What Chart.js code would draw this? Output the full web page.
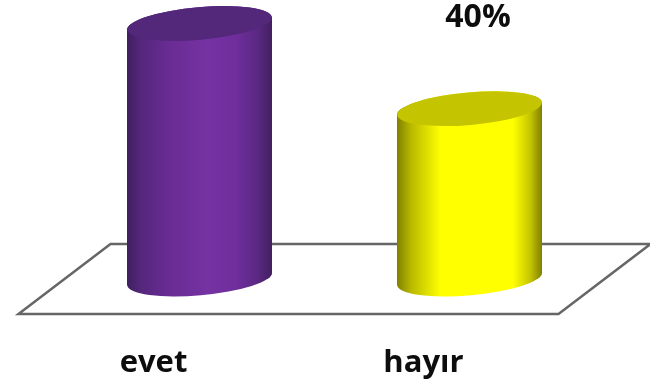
<!DOCTYPE html>
<html>
<head>
<meta charset="utf-8">
<script src="https://cdn.jsdelivr.net/npm/chart.js@4"></script>
<style>
  html, body { margin: 0; padding: 0; background: #fff; }
  #wrap { width: 650px; height: 381px; }
</style>
</head>
<body>
<div id="wrap"><canvas id="cylinderChart" width="650" height="381"></canvas></div>
<script>
const categories = ['evet', 'hayır'];
const percentValues = [60, 40];
const valueLabels = ['', '40%'];
const yMax = 60;

const sideStops = [
    [[0, '#3f1f5e'], [0.1, '#55277d'], [0.3, '#6a2c94'], [0.55, '#7532a3'], [0.75, '#6f2e9c'], [0.9, '#5a2883'], [1, '#42205f']],
    [[0, '#808000'], [0.1, '#baba00'], [0.3, '#ffff00'], [0.8, '#ffff00'], [0.92, '#c4c400'], [1, '#808000']]
];
const capColors = ['#53277a', '#c4c400'];

const fontName = '"Open Sans", Lato, sans-serif';
const barShare = 0.537;
const floorShear = 46;
const floorDepth = 35;
const capA = 72.6, capB = 16.3, capTilt = -5 * Math.PI / 180, capDrop = 6;

function sideGradient(chart, i, cx, w) {
    const g = chart.ctx.createLinearGradient(cx - w / 2, 0, cx + w / 2, 0);
    sideStops[i].forEach(s => g.addColorStop(s[0], s[1]));
    return g;
}

function cylinderPath(ctx, bar) {
    const half = bar.width / 2;
    ctx.moveTo(bar.x - half, bar.y + capDrop);
    ctx.lineTo(bar.x - half, bar.base + capDrop);
    ctx.lineTo(bar.x + half, bar.base - capDrop);
    ctx.lineTo(bar.x + half, bar.y - capDrop);
    ctx.closePath();
    ctx.moveTo(bar.x + capA, bar.base);
    ctx.ellipse(bar.x, bar.base, capA, capB, capTilt, 0, Math.PI * 2, true);
    ctx.closePath();
    ctx.moveTo(bar.x + capA, bar.y);
    ctx.ellipse(bar.x, bar.y, capA, capB, capTilt, 0, Math.PI * 2, true);
    ctx.closePath();
}

const cylinderPlugin = {
    id: 'cylinders',
    beforeDatasetsDraw(chart) {
        const ctx = chart.ctx;
        const area = chart.chartArea;
        const y0 = chart.scales.y.getPixelForValue(0);
        const bars = chart.getDatasetMeta(0).data;

        // floor of the 3d chart
        ctx.save();
        ctx.strokeStyle = '#666666';
        ctx.lineWidth = 2.5;
        ctx.lineJoin = 'miter';
        ctx.beginPath();
        ctx.moveTo(area.left + floorShear, y0 - floorDepth);
        ctx.lineTo(area.right + floorShear, y0 - floorDepth);
        ctx.lineTo(area.right - floorShear, y0 + floorDepth);
        ctx.lineTo(area.left - floorShear, y0 + floorDepth);
        ctx.closePath();
        ctx.stroke();
        ctx.restore();

        bars.forEach((bar, i) => {
            ctx.save();
            ctx.beginPath();
            cylinderPath(ctx, bar);
            ctx.fillStyle = sideGradient(chart, i, bar.x, bar.width);
            ctx.fill();
            ctx.restore();
        });

        // bars are cut to the round outline, restored in afterDatasetsDraw
        ctx.save();
        ctx.beginPath();
        bars.forEach(bar => cylinderPath(ctx, bar));
        ctx.clip();
    },
    afterDatasetsDraw(chart) {
        const ctx = chart.ctx;
        ctx.restore();
        chart.getDatasetMeta(0).data.forEach((bar, i) => {
            ctx.save();
            ctx.beginPath();
            ctx.ellipse(bar.x, bar.y, capA, capB, capTilt, 0, Math.PI * 2);
            ctx.fillStyle = capColors[i];
            ctx.fill();
            ctx.restore();

            if (valueLabels[i]) {
                ctx.save();
                ctx.font = 'bold 32px ' + fontName;
                ctx.fillStyle = '#0d0d0d';
                ctx.textAlign = 'center';
                ctx.textBaseline = 'middle';
                ctx.fillText(valueLabels[i], bar.x + 8.5, bar.y - 91);
                ctx.restore();
            }
        });
    }
};

new Chart(document.getElementById('cylinderChart'), {
    type: 'bar',
    data: {
        labels: categories,
        datasets: [{
            data: percentValues,
            categoryPercentage: 1,
            barPercentage: barShare,
            borderWidth: 0,
            backgroundColor: ctx => {
                const x = ctx.chart.scales.x;
                const i = ctx.dataIndex;
                const w = x ? (x.right - x.left) / categories.length * barShare : NaN;
                const cx = x && i !== undefined ? x.getPixelForValue(i) : NaN;
                if (!Number.isFinite(w) || !Number.isFinite(cx)) return capColors[i || 0];
                return sideGradient(ctx.chart, i, cx, w);
            }
        }]
    },
    options: {
        responsive: false,
        animation: false,
        layout: { padding: { left: 64.5, right: 45.5, top: 23.5, bottom: 0 } },
        plugins: { legend: { display: false }, tooltip: { enabled: false } },
        scales: {
            x: {
                grid: { display: false },
                border: { display: false },
                afterFit: scale => { scale.height = 102; },
                ticks: {
                    color: '#0d0d0d',
                    font: { family: fontName, size: 31, weight: 'bold' },
                    labelOffset: -46,
                    maxRotation: 0,
                    padding: 58
                }
            },
            y: { display: false, min: 0, max: yMax }
        }
    },
    plugins: [cylinderPlugin]
});
</script>
</body>
</html>
